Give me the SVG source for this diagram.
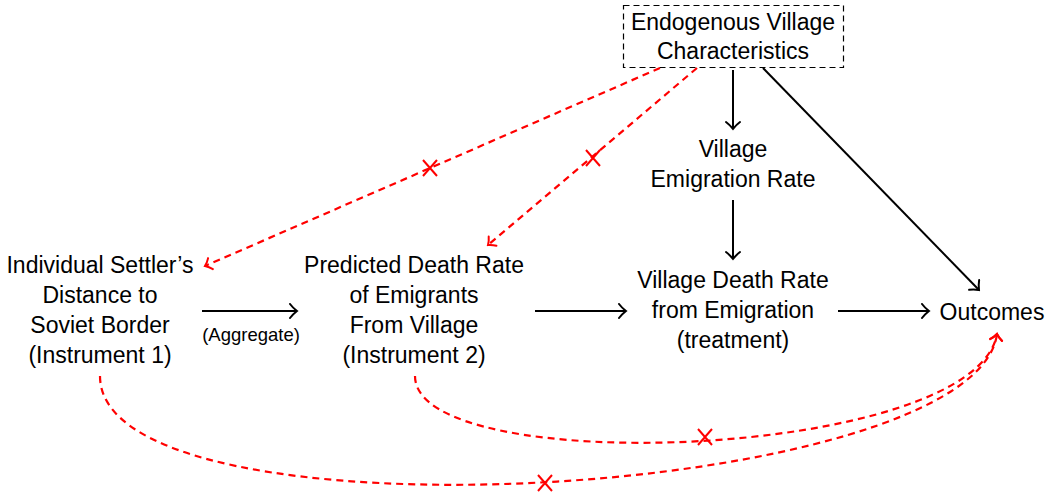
<svg xmlns="http://www.w3.org/2000/svg" width="1050" height="498" viewBox="0 0 1050 498">
<style>
text{font-family:"Liberation Sans",Arial,sans-serif;font-size:23px;fill:#000;text-anchor:middle}
.small{font-size:18.5px}
.blk{stroke:#000;stroke-width:2;fill:none}
.red{stroke:#f00;stroke-width:2.2;fill:none;stroke-dasharray:7 5}
.cross{stroke:#f00;stroke-width:2;fill:none}
</style>
<defs>
<marker id="ab" viewBox="-10 -8 12 16" refX="0" refY="0" markerWidth="12" markerHeight="16" markerUnits="userSpaceOnUse" orient="auto">
<path d="M-7,-7 C-4,-3 -1,-0.8 0,0 C-1,0.8 -4,3 -7,7" stroke="#000" stroke-width="2" fill="none" stroke-linecap="round"/>
</marker>
<marker id="ar" viewBox="-10 -8 12 16" refX="0" refY="0" markerWidth="12" markerHeight="16" markerUnits="userSpaceOnUse" orient="auto">
<path d="M-6,-6 C-3.5,-2.5 -1,-0.7 0,0 C-1,0.7 -3.5,2.5 -6,6" stroke="#f00" stroke-width="2" fill="none" stroke-linecap="round"/>
</marker>
</defs>
<g id="endog">
<rect x="623.5" y="5.5" width="220" height="62" fill="none" stroke="#000" stroke-width="1.2" stroke-dasharray="6 4"/>
<text x="733" y="30">Endogenous Village</text>
<text x="733" y="59">Characteristics</text>
</g>
<g id="emig">
<text x="733" y="157">Village</text>
<text x="733" y="187">Emigration Rate</text>
</g>
<g id="treat">
<text x="733" y="288">Village Death Rate</text>
<text x="733" y="318">from Emigration</text>
<text x="733" y="348">(treatment)</text>
</g>
<g id="outcomes">
<text x="992" y="320">Outcomes</text>
</g>
<g id="inst1">
<text x="100" y="273">Individual Settler’s</text>
<text x="100" y="303">Distance to</text>
<text x="100" y="333">Soviet Border</text>
<text x="100" y="363">(Instrument 1)</text>
</g>
<g id="inst2">
<text x="414" y="273">Predicted Death Rate</text>
<text x="414" y="303">of Emigrants</text>
<text x="414" y="333">From Village</text>
<text x="414" y="363">(Instrument 2)</text>
</g>
<g id="connectors">
<path class="blk" d="M202,311 H297" marker-end="url(#ab)"/>
<text class="small" x="251" y="341">(Aggregate)</text>
<path class="blk" d="M535,311 H626" marker-end="url(#ab)"/>
<path class="blk" d="M838,311 H929" marker-end="url(#ab)"/>
<path class="blk" d="M733,70 V129" marker-end="url(#ab)"/>
<path class="blk" d="M733,200 V259" marker-end="url(#ab)"/>
<path class="blk" d="M763,68 L979,290" marker-end="url(#ab)"/>
<path class="red" d="M660,68 L205,266" marker-end="url(#ar)"/>
<path class="red" d="M697,68 L488,245" marker-end="url(#ar)"/>
<path class="red" d="M415,376 C415,480 975,460 997,334" marker-end="url(#ar)"/>
<path class="red" d="M100,376 C100,550 975,500 997,334" marker-end="url(#ar)"/>
<path class="cross" d="M423,160 L437,176 M437,160 L423,176"/>
<path class="cross" d="M586,150 L600,166 M600,150 L586,166"/>
<path class="cross" d="M698,429 L712,445 M712,429 L698,445"/>
<path class="cross" d="M538,475 L552,491 M552,475 L538,491"/>
</g>
</svg>
